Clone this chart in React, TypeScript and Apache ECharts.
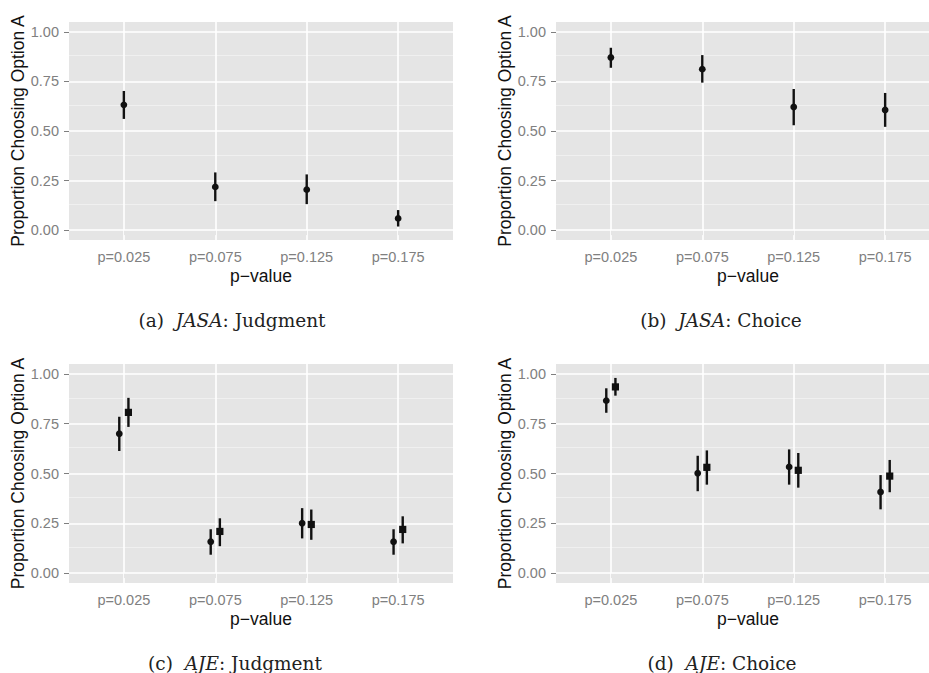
import React, { useEffect, useRef } from "react";
import * as echarts from "echarts";

// ---- data ----
const pLabels = ["p=0.025", "p=0.075", "p=0.125", "p=0.175"];
const yTickValues = [0, 0.25, 0.5, 0.75, 1];
const yMinorValues = [0.125, 0.375, 0.625, 0.875];
const xTickValues = [1, 2, 3, 4];

// (a) JASA: Judgment
const jasaJudgMean = [0.632, 0.218, 0.204, 0.059];
const jasaJudgLo = [0.561, 0.146, 0.131, 0.018];
const jasaJudgHi = [0.702, 0.291, 0.281, 0.101];

// (b) JASA: Choice
const jasaChoiceMean = [0.871, 0.812, 0.621, 0.606];
const jasaChoiceLo = [0.819, 0.744, 0.529, 0.521];
const jasaChoiceHi = [0.920, 0.883, 0.712, 0.692];

// (c) AJE: Judgment — circle group and square group
const ajeJudgCircMean = [0.700, 0.157, 0.250, 0.157];
const ajeJudgCircLo = [0.613, 0.092, 0.174, 0.092];
const ajeJudgCircHi = [0.785, 0.220, 0.326, 0.220];
const ajeJudgSqMean = [0.807, 0.209, 0.244, 0.219];
const ajeJudgSqLo = [0.734, 0.135, 0.167, 0.149];
const ajeJudgSqHi = [0.880, 0.275, 0.319, 0.285];

// (d) AJE: Choice — circle group and square group
const ajeChoiceCircMean = [0.866, 0.501, 0.533, 0.407];
const ajeChoiceCircLo = [0.805, 0.411, 0.444, 0.320];
const ajeChoiceCircHi = [0.928, 0.589, 0.621, 0.492];
const ajeChoiceSqMean = [0.935, 0.531, 0.516, 0.487];
const ajeChoiceSqLo = [0.891, 0.444, 0.429, 0.406];
const ajeChoiceSqHi = [0.980, 0.616, 0.603, 0.568];

const captions = [
  "(a)  {i|JASA}: Judgment",
  "(b)  {i|JASA}: Choice",
  "(c)  {i|AJE}: Judgment",
  "(d)  {i|AJE}: Choice",
];

// ---- layout ----
const grids = [
  { left: 69, top: 22, width: 384, height: 218 },
  { left: 556, top: 22, width: 384, height: 218 },
  { left: 69, top: 364, width: 384, height: 219 },
  { left: 556, top: 364, width: 384, height: 219 },
];
const captionPos = [
  [232, 320],
  [721, 320],
  [235, 663],
  [722, 663],
];
const DODGE = 0.05;

function build(mean: number[], lo: number[], hi: number[], offset: number) {
  return mean.map((m, i) => [i + 1 + offset, m, lo[i], hi[i]]);
}

function makeSeries(gi: number, data: number[][], shape: "circle" | "square") {
  return {
    type: "custom",
    xAxisIndex: gi,
    yAxisIndex: gi,
    z: 10,
    silent: true,
    data,
    encode: { x: 0, y: 1 },
    renderItem: (_params: any, api: any) => {
      const x = api.value(0);
      const top = api.coord([x, api.value(3)]);
      const bot = api.coord([x, api.value(2)]);
      const c = api.coord([x, api.value(1)]);
      const marker =
        shape === "circle"
          ? { type: "circle", shape: { cx: c[0], cy: c[1], r: 3.4 }, style: { fill: "#111" } }
          : { type: "rect", shape: { x: c[0] - 3.6, y: c[1] - 3.6, width: 7.2, height: 7.2 }, style: { fill: "#111" } };
      return {
        type: "group",
        children: [
          {
            type: "line",
            shape: { x1: top[0], y1: top[1], x2: bot[0], y2: bot[1] },
            style: { stroke: "#111", lineWidth: 2.4 },
          },
          marker,
        ],
      };
    },
  };
}

function gridLineSeries(gi: number) {
  const major = { color: "#ffffff", width: 1.6, type: "solid" };
  const minor = { color: "#f1f1f1", width: 0.9, type: "solid" };
  return {
    type: "line",
    xAxisIndex: gi,
    yAxisIndex: gi,
    data: [],
    z: 1,
    silent: true,
    markLine: {
      z: 1,
      silent: true,
      symbol: ["none", "none"],
      label: { show: false },
      animation: false,
      emphasis: { disabled: true },
      data: [
        ...yMinorValues.map((v) => ({ yAxis: v, lineStyle: minor })),
        ...yTickValues.map((v) => ({ yAxis: v, lineStyle: major })),
        ...xTickValues.map((v) => ({ xAxis: v, lineStyle: major })),
      ],
    },
  };
}

export default function App() {
  const ref = useRef<HTMLDivElement>(null);
  useEffect(() => {
    if (!ref.current) return;
    const chart = echarts.init(ref.current, null, { renderer: "svg" });
    const tickColor = "#7f7f7f";
    const sans = "'Liberation Sans', Arial, sans-serif";

    const xAxes = grids.map((_, gi) => ({
      gridIndex: gi,
      type: "value",
      min: 0.4,
      max: 4.6,
      axisLine: { show: false },
      axisTick: {
        show: true,
        customValues: xTickValues,
        length: 5,
        lineStyle: { color: tickColor, width: 1 },
      },
      axisLabel: {
        show: true,
        customValues: xTickValues,
        formatter: (v: number) => pLabels[Math.round(v) - 1] ?? "",
        color: "#808080",
        fontSize: 14.5,
        fontFamily: sans,
        margin: 9,
      },
      splitLine: { show: false },
      minorSplitLine: { show: false },
      name: "p\u2212value",
      nameLocation: "middle",
      nameGap: 27,
      nameTextStyle: { color: "#111", fontSize: 17.5, fontFamily: sans },
    }));

    const yAxes = grids.map((_, gi) => ({
      gridIndex: gi,
      type: "value",
      min: -0.05,
      max: 1.05,
      axisLine: { show: false },
      axisTick: {
        show: true,
        customValues: yTickValues,
        length: 5,
        lineStyle: { color: tickColor, width: 1 },
      },
      axisLabel: {
        show: true,
        customValues: yTickValues,
        formatter: (v: number) => v.toFixed(2),
        color: "#808080",
        fontSize: 14.5,
        fontFamily: sans,
        margin: 10,
      },
      splitLine: { show: false },
      name: "Proportion Choosing Option A",
      nameLocation: "middle",
      nameRotate: 90,
      nameGap: 42,
      nameTextStyle: { color: "#111", fontSize: 17.5, fontFamily: sans },
    }));

    const series: any[] = [
      gridLineSeries(0),
      gridLineSeries(1),
      gridLineSeries(2),
      gridLineSeries(3),
      makeSeries(0, build(jasaJudgMean, jasaJudgLo, jasaJudgHi, 0), "circle"),
      makeSeries(1, build(jasaChoiceMean, jasaChoiceLo, jasaChoiceHi, 0), "circle"),
      makeSeries(2, build(ajeJudgCircMean, ajeJudgCircLo, ajeJudgCircHi, -DODGE), "circle"),
      makeSeries(2, build(ajeJudgSqMean, ajeJudgSqLo, ajeJudgSqHi, DODGE), "square"),
      makeSeries(3, build(ajeChoiceCircMean, ajeChoiceCircLo, ajeChoiceCircHi, -DODGE), "circle"),
      makeSeries(3, build(ajeChoiceSqMean, ajeChoiceSqLo, ajeChoiceSqHi, DODGE), "square"),
    ];

    const graphic = captions.map((t, i) => ({
      type: "text",
      x: captionPos[i][0],
      y: captionPos[i][1],
      silent: true,
      style: {
        text: t,
        fill: "#222",
        fontFamily: "'DejaVu Serif', serif",
        fontSize: 18.5,
        align: "center",
        verticalAlign: "middle",
        rich: {
          i: {
            fontStyle: "italic",
            fontFamily: "'DejaVu Serif', serif",
            fontSize: 18.5,
            fill: "#222",
          },
        },
      },
    }));

    chart.setOption({
      animation: false,
      backgroundColor: "#ffffff",
      grid: grids.map((g) => ({
        ...g,
        show: true,
        backgroundColor: "#e5e5e5",
        borderWidth: 0,
        containLabel: false,
        outerBoundsMode: "none",
      })),
      xAxis: xAxes,
      yAxis: yAxes,
      series,
      graphic,
    });
    return () => chart.dispose();
  }, []);
  return (
    <div
      ref={ref}
      style={{ position: "absolute", left: 0, top: 0, width: 929, height: 673 }}
    />
  );
}
